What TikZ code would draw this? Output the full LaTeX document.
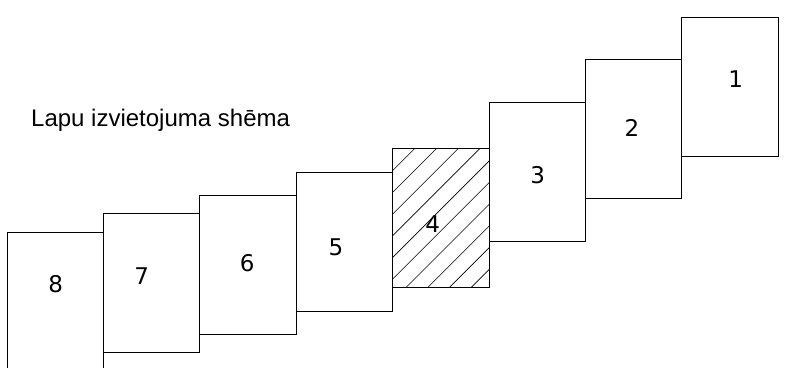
\documentclass[tikz,border=0pt]{standalone}
\usepackage{fontspec}
\setmainfont{Liberation Sans}
\newfontfamily\digitfont{DejaVu Sans}
\usetikzlibrary{calc}

\begin{document}
\begin{tikzpicture}[x=1pt,y=-1pt,
    sheet/.style={draw, line width=0.8pt, fill=white, inner sep=0pt, outer sep=0pt,
        minimum width=96.4pt, minimum height=139pt, anchor=north west},
    num/.style={font=\digitfont\fontsize{23}{23}\selectfont, inner sep=0pt},
    hatchline/.style={line width=0.6pt}]

% Page frame
\useasboundingbox (0,0) rectangle (787,367);

% Sheets: number / left / top
\foreach \n/\x/\y in {8/7/232.3, 7/103.4/213, 6/199.8/195.3, 5/296.2/172.3,
        4/392.6/148.3, 3/489/102.3, 2/585.4/59.7, 1/681.8/17.3} {
    \node[sheet] (p\n) at (\x,\y) {};
}

% Hatching of sheet 4
\def\Hstep{21.7} % spacing along the top edge
\begin{scope}
    \clip (p4.north west) rectangle (p4.south east);
    \foreach \k in {0,...,9} {
        \draw[hatchline] ($(p4.north west)+(22.4+\k*\Hstep,0)$) -- ++(-170,170);
    }
\end{scope}
\draw[line width=0.8pt] (p4.north west) rectangle (p4.south east);

% Sheet numbers
\foreach \n/\lx/\ly in {8/55.7/284, 7/141.7/275.7, 6/247.3/263.3, 5/336/247.7,
        4/432.7/224, 3/537.7/174.7, 2/632/128.3, 1/735.7/78.7} {
    \node[num] (n\n) at (\lx,\ly) {\n};
}

% Title
\node[anchor=base west, inner sep=0pt, font=\fontsize{24}{24}\selectfont] (title) at (31,126.7) {Lapu izvietojuma shēma};

\end{tikzpicture}
\end{document}
